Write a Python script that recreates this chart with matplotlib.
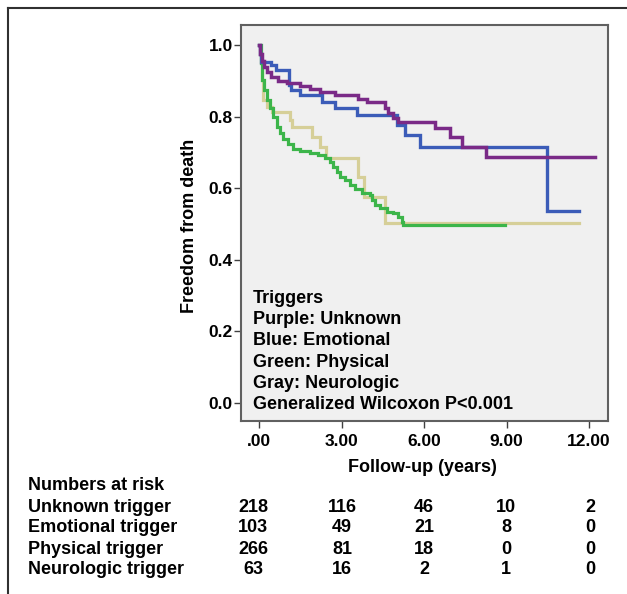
# Kaplan-Meier style freedom-from-death curves by trigger, with numbers at risk table
import matplotlib
matplotlib.use("Agg")
import matplotlib.pyplot as plt
from matplotlib.lines import Line2D

plt.rcParams['font.family'] = ['Liberation Sans', 'DejaVu Sans']
plt.rcParams['font.weight'] = 'bold'
plt.rcParams['font.size'] = 13

# Step curves (time in years, survival)
unknown_t = [0, 0.04, 0.1, 0.18, 0.28, 0.45, 0.7, 1.0, 1.49, 1.85, 2.22, 2.76, 3.61, 3.91,
             4.58, 4.7, 4.88, 5.06, 6.4, 6.95, 7.37, 8.25, 12.2]
unknown_s = [1.0, 0.975, 0.955, 0.94, 0.925, 0.912, 0.9, 0.893, 0.885, 0.877, 0.870, 0.860, 0.850, 0.842,
             0.823, 0.809, 0.795, 0.786, 0.768, 0.744, 0.716, 0.688, 0.688]

emotional_t = [0, 0.03, 0.07, 0.43, 0.62, 1.1, 1.16, 1.49, 2.28, 2.76, 3.55, 5.0, 5.31, 5.85, 10.46, 11.65]
emotional_s = [1.0, 0.975, 0.953, 0.944, 0.930, 0.888, 0.874, 0.860, 0.842, 0.823, 0.804, 0.776, 0.748,
               0.716, 0.537, 0.537]

physical_t = [0, 0.06, 0.11, 0.18, 0.28, 0.40, 0.52, 0.64, 0.76, 0.88, 1.07, 1.25, 1.49, 1.85, 2.16, 2.40,
              2.58, 2.70, 2.82, 2.95, 3.13, 3.31, 3.49, 3.73, 4.04, 4.10, 4.22, 4.40, 4.64, 4.88, 5.07,
              5.19, 5.25, 8.95]
physical_s = [1.0, 0.949, 0.902, 0.874, 0.846, 0.823, 0.800, 0.772, 0.753, 0.739, 0.725, 0.711, 0.705,
              0.699, 0.693, 0.684, 0.674, 0.660, 0.646, 0.632, 0.623, 0.609, 0.597, 0.586, 0.581, 0.567,
              0.553, 0.544, 0.535, 0.530, 0.521, 0.507, 0.497, 0.497]

neuro_t = [0, 0.03, 0.06, 0.1, 0.13, 0.28, 0.46, 1.13, 1.19, 1.92, 2.22, 2.44, 3.61, 3.82, 4.58, 11.65]
neuro_s = [1.0, 0.975, 0.949, 0.902, 0.846, 0.828, 0.814, 0.79, 0.772, 0.744, 0.716, 0.684, 0.632,
           0.576, 0.503, 0.503]

x_ticks = [0, 3, 6, 9, 12]
x_tick_labels = ['.00', '3.00', '6.00', '9.00', '12.00']
y_ticks = [0.0, 0.2, 0.4, 0.6, 0.8, 1.0]
y_tick_labels = ['0.0', '0.2', '0.4', '0.6', '0.8', '1.0']

legend_lines = ['Triggers', 'Purple: Unknown', 'Blue: Emotional', 'Green: Physical',
                'Gray: Neurologic', 'Generalized Wilcoxon P<0.001']

risk_rows = ['Unknown trigger', 'Emotional trigger', 'Physical trigger', 'Neurologic trigger']
risk_unknown = [218, 116, 46, 10, 2]
risk_emotional = [103, 49, 21, 8, 0]
risk_physical = [266, 81, 18, 0, 0]
risk_neuro = [63, 16, 2, 1, 0]

W, H = 627, 594
fig = plt.figure(figsize=(W / 100, H / 100), dpi=100)
fig.patch.set_facecolor('white')

ax = fig.add_axes([241 / W, 1 - 421 / H, (608 - 241) / W, (421 - 25) / H])
ax.set_facecolor('#f0f0f0')

ax.step(neuro_t, neuro_s, where='post', color='#d6cf98', lw=2.3, solid_joinstyle='miter')
ax.step(physical_t, physical_s, where='post', color='#3cb54a', lw=2.3, solid_joinstyle='miter')
ax.step(emotional_t, emotional_s, where='post', color='#3b5cb8', lw=2.4, solid_joinstyle='miter')
ax.step(unknown_t, unknown_s, where='post', color='#7a2a87', lw=2.5, solid_joinstyle='miter')

ax.set_xlim(-0.655, 12.69)
ax.set_ylim(-0.05, 1.056)
ax.set_xticks(x_ticks)
ax.set_xticklabels(x_tick_labels)
ax.set_yticks(y_ticks)
ax.set_yticklabels(y_tick_labels)
ax.tick_params(axis='both', length=5, width=1, color='#404040', labelsize=12.5)
ax.tick_params(axis='x', pad=4)
ax.tick_params(axis='y', pad=1)
for sp in ax.spines.values():
    sp.set_color('#606060')
    sp.set_linewidth(1.5)

# axis titles
fig.text(190 / W, 1 - 226 / H, 'Freedom from death', rotation=90, ha='center', va='center')
fig.text(422 / W, 1 - 467 / H, 'Follow-up (years)', ha='center', va='center')

# legend text inside plot
for i, line in enumerate(legend_lines):
    fig.text(253 / W, 1 - (298.5 + 21.2 * i) / H, line, ha='left', va='center')

# numbers at risk table
col_x = [253, 342, 424, 506, 590]
fig.text(28 / W, 1 - 486 / H, 'Numbers at risk', ha='left', va='center')
for r, (name, vals) in enumerate(zip(risk_rows, [risk_unknown, risk_emotional, risk_physical, risk_neuro])):
    yy = 1 - (507 + 21 * r) / H
    fig.text(28 / W, yy, name, ha='left', va='center')
    for cx, v in zip(col_x, vals):
        fig.text(cx / W, yy, str(v), ha='center', va='center')

# outer frame (left and top edges)
fig.add_artist(Line2D([7.5 / W, 7.5 / W], [0, 1 - 7.5 / H], color='#303030', lw=1.5))
fig.add_artist(Line2D([7.5 / W, 1], [1 - 7.5 / H, 1 - 7.5 / H], color='#303030', lw=1.5))

fig.savefig('out.png', dpi=100)
